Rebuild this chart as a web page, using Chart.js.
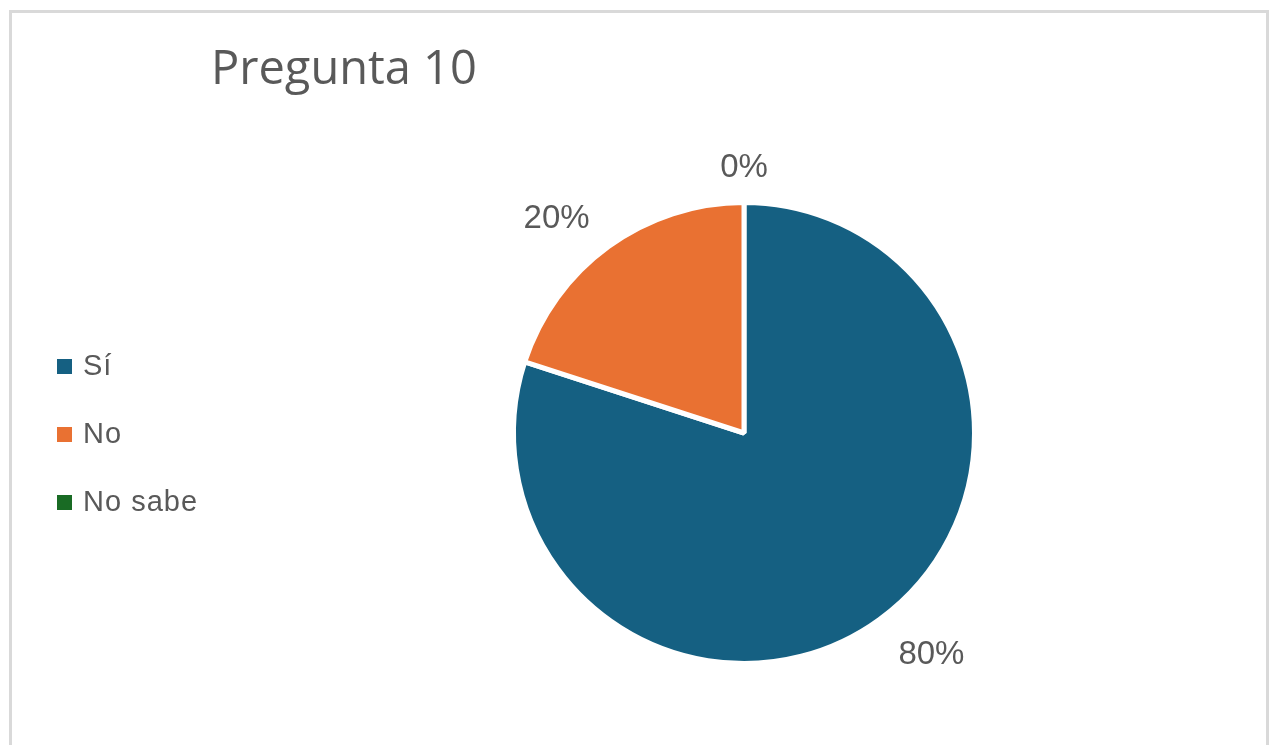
<!DOCTYPE html>
<html>
<head>
<meta charset="utf-8">
<script src="https://cdn.jsdelivr.net/npm/chart.js@4"></script>
<style>
  html, body { margin: 0; padding: 0; background: #ffffff; }
  canvas { display: block; }
</style>
</head>
<body>
<canvas id="c" width="1270" height="745"></canvas>
<script>
const titleText = "Pregunta 10";
const categories = ["Sí", "No", "No sabe"];
const values = [80, 20, 0];
const colors = ["#156082", "#E97132", "#196B24"];
const textColor = "#595959";

const framePlugin = {
  id: "frame",
  beforeDraw(chart) {
    const ctx = chart.ctx;
    ctx.save();
    ctx.fillStyle = "#ffffff";
    ctx.fillRect(0, 0, chart.width, chart.height);
    ctx.strokeStyle = "#d9d9d9";
    ctx.lineWidth = 3;
    ctx.strokeRect(10.5, 11.5, 1257, 760);
    ctx.restore();
  },
  afterDraw(chart) {
    const ctx = chart.ctx;
    ctx.save();
    // title
    ctx.fillStyle = textColor;
    ctx.font = '47px "Open Sans"';
    ctx.textBaseline = "alphabetic";
    ctx.textAlign = "left";
    ctx.fillText(titleText, 211, 84);
    // legend
    ctx.font = '29px "Liberation Sans"';
    ctx.letterSpacing = "1px";
    ctx.textBaseline = "middle";
    categories.forEach((lab, i) => {
      const y = 366 + i * 68;
      ctx.fillStyle = colors[i];
      ctx.fillRect(57, y - 7, 15, 15);
      ctx.fillStyle = textColor;
      ctx.fillText(lab, 83, y + 1);
    });
    ctx.letterSpacing = "0px";
    // data labels
    const meta = chart.getDatasetMeta(0);
    const total = values.reduce((a, b) => a + b, 0);
    ctx.font = '33px "Liberation Sans"';
    ctx.textAlign = "center";
    ctx.textBaseline = "middle";
    meta.data.forEach((arc, i) => {
      const p = arc.getProps(["x", "y", "startAngle", "endAngle", "outerRadius"], true);
      const mid = (p.startAngle + p.endAngle) / 2;
      const dx = Math.cos(mid), dy = Math.sin(mid);
      const txt = Math.round(values[i] / total * 100) + "%";
      const w = ctx.measureText(txt).width;
      const h = 22;
      const r = p.outerRadius + 17;
      const x = p.x + dx * r + dx * w * 1.08;
      const y = p.y + dy * r + dy * h + 4;
      ctx.fillStyle = textColor;
      ctx.fillText(txt, x, y);
    });
    ctx.restore();
  }
};

new Chart(document.getElementById("c"), {
  type: "pie",
  data: {
    labels: categories,
    datasets: [{
      data: values,
      backgroundColor: colors,
      borderColor: "#ffffff",
      borderWidth: 5
    }]
  },
  options: {
    responsive: false,
    animation: false,
    layout: { padding: { left: 511, right: 293, top: 200, bottom: 79 } },
    plugins: {
      legend: { display: false },
      title: { display: false },
      tooltip: { enabled: false }
    }
  },
  plugins: [framePlugin]
});
</script>
</body>
</html>
